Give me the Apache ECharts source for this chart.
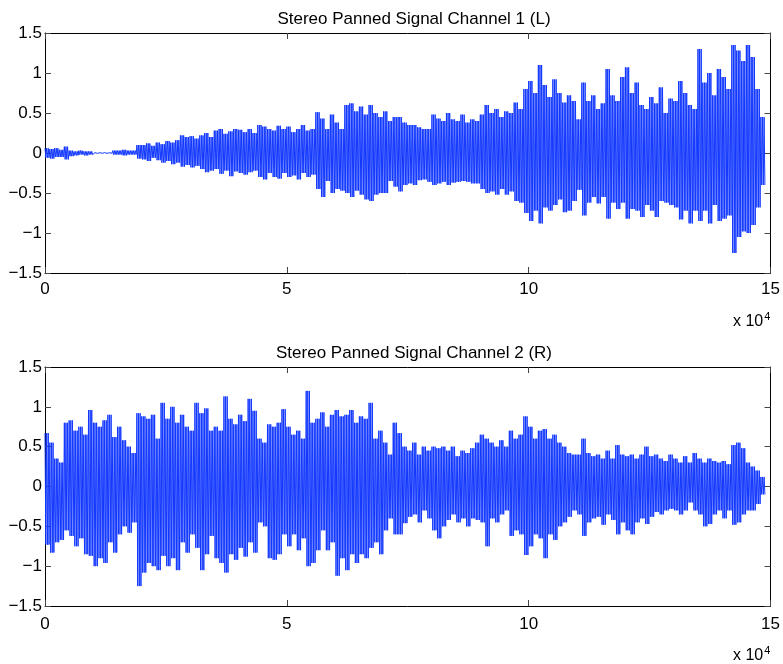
<!DOCTYPE html>
<html>
<head>
<meta charset="utf-8">
<script src="https://cdn.jsdelivr.net/npm/echarts@6/dist/echarts.min.js"></script>
<style>
html,body{margin:0;padding:0;background:#fff;}
#chart{width:783px;height:664px;}
</style>
</head>
<body>
<div id="chart"></div>
<script>
// ---- Data ----
const titles = ['Stereo Panned Signal Channel 1 (L)', 'Stereo Panned Signal Channel 2 (R)'];
const xTicks = [0, 50000, 100000, 150000];
const yTicks = [-1.5, -1, -0.5, 0, 0.5, 1, 1.5];
const binSize = 1000;   // samples per peak bin

// Channel 1 (L): upper and lower peaks per 1000-sample bin
const ch1Hi = [
 0.06,0.05,0.06,0.04,0.08,0.03,0.02,0.03,0.02,0.02,
 0.005,0.004,0.005,0.004,0.03,0.03,0.04,0.03,0.03,0.10,
 0.10,0.12,0.09,0.13,0.11,0.15,0.13,0.16,0.22,0.20,
 0.21,0.18,0.22,0.25,0.20,0.28,0.30,0.24,0.27,0.30,
 0.29,0.26,0.30,0.25,0.35,0.33,0.30,0.28,0.34,0.30,
 0.33,0.26,0.30,0.35,0.28,0.30,0.51,0.43,0.30,0.48,
 0.38,0.30,0.60,0.62,0.52,0.58,0.48,0.60,0.50,0.45,
 0.52,0.40,0.45,0.45,0.38,0.35,0.35,0.32,0.30,0.30,
 0.48,0.43,0.40,0.50,0.42,0.40,0.48,0.38,0.42,0.40,
 0.48,0.60,0.50,0.55,0.45,0.52,0.50,0.63,0.55,0.80,
 0.90,0.75,1.10,0.85,0.70,0.92,0.75,0.63,0.72,0.65,
 0.42,0.88,0.65,0.72,0.55,0.62,1.05,0.72,0.65,0.95,
 1.07,0.75,0.88,0.60,0.55,0.70,0.62,0.82,0.50,0.68,
 0.65,0.90,0.75,0.60,0.55,1.30,0.88,1.00,0.72,1.05,
 0.95,0.80,1.35,1.28,1.15,1.35,1.20,0.80,0.45
];
const ch1Lo = [
 -0.06,-0.07,-0.05,-0.05,-0.08,-0.04,-0.03,-0.02,-0.03,-0.02,
 -0.005,-0.004,-0.005,-0.004,-0.02,-0.02,-0.03,-0.02,-0.02,-0.07,
 -0.08,-0.10,-0.06,-0.09,-0.12,-0.10,-0.14,-0.12,-0.17,-0.15,
 -0.18,-0.16,-0.20,-0.24,-0.22,-0.20,-0.26,-0.22,-0.29,-0.23,
 -0.25,-0.27,-0.24,-0.22,-0.30,-0.33,-0.25,-0.30,-0.32,-0.25,
 -0.30,-0.28,-0.33,-0.25,-0.30,-0.27,-0.45,-0.55,-0.35,-0.50,
 -0.45,-0.47,-0.50,-0.55,-0.47,-0.52,-0.58,-0.60,-0.52,-0.50,
 -0.50,-0.35,-0.42,-0.48,-0.40,-0.38,-0.40,-0.34,-0.33,-0.36,
 -0.40,-0.38,-0.36,-0.40,-0.37,-0.36,-0.35,-0.36,-0.38,-0.38,
 -0.45,-0.50,-0.48,-0.52,-0.45,-0.52,-0.48,-0.60,-0.62,-0.75,
 -0.85,-0.72,-0.88,-0.68,-0.72,-0.65,-0.58,-0.74,-0.72,-0.60,
 -0.46,-0.78,-0.62,-0.55,-0.63,-0.55,-0.82,-0.62,-0.70,-0.62,
 -0.82,-0.70,-0.72,-0.80,-0.65,-0.72,-0.80,-0.60,-0.62,-0.65,
 -0.68,-0.83,-0.72,-0.88,-0.72,-0.85,-0.72,-0.88,-0.65,-0.85,
 -0.82,-0.78,-1.25,-1.05,-0.98,-1.00,-0.90,-0.68,-0.40
];

// Channel 2 (R): upper and lower peaks per 1000-sample bin
const ch2Hi = [
 0.67,0.55,0.35,0.30,0.80,0.83,0.70,0.75,0.65,0.96,
 0.80,0.75,0.83,0.90,0.62,0.75,0.58,0.50,0.42,0.92,
 0.88,0.85,0.90,0.60,1.05,0.85,1.00,0.80,0.90,0.75,
 0.70,1.05,0.92,0.98,0.70,0.75,0.70,1.13,0.85,0.78,
 0.90,0.82,1.10,0.95,0.60,0.55,0.78,0.75,0.80,0.97,
 0.75,0.65,0.70,0.60,1.20,0.80,0.85,0.93,0.75,0.90,
 0.96,0.88,0.90,0.96,0.80,0.88,0.85,1.05,0.60,0.70,
 0.55,0.40,0.80,0.67,0.50,0.45,0.55,0.40,0.50,0.45,
 0.50,0.48,0.50,0.45,0.50,0.38,0.45,0.42,0.48,0.55,
 0.65,0.60,0.55,0.50,0.58,0.50,0.70,0.60,0.65,0.88,
 0.75,0.60,0.70,0.72,0.60,0.65,0.55,0.50,0.42,0.40,
 0.40,0.60,0.42,0.38,0.40,0.35,0.45,0.35,0.52,0.40,
 0.38,0.40,0.35,0.40,0.50,0.38,0.40,0.35,0.32,0.40,
 0.35,0.30,0.38,0.30,0.42,0.35,0.30,0.35,0.32,0.30,
 0.32,0.28,0.52,0.55,0.48,0.30,0.25,0.20,0.12
];
const ch2Lo = [
 -0.73,-0.83,-0.70,-0.67,-0.55,-0.62,-0.75,-0.65,-0.85,-0.87,
 -1.00,-0.90,-0.96,-0.70,-0.83,-0.60,-0.50,-0.58,-0.45,-1.25,
 -1.08,-0.96,-1.00,-1.05,-0.87,-1.00,-0.90,-1.05,-0.70,-0.83,
 -0.60,-0.77,-1.05,-0.85,-0.62,-0.90,-0.96,-1.08,-0.85,-0.92,
 -0.77,-0.88,-0.70,-0.83,-0.45,-0.50,-0.90,-0.92,-0.85,-0.60,
 -0.75,-0.60,-0.80,-0.65,-1.00,-0.96,-0.80,-0.55,-0.80,-0.70,
 -1.12,-0.90,-1.05,-0.85,-0.96,-0.85,-0.90,-0.77,-0.70,-0.85,
 -0.55,-0.40,-0.60,-0.60,-0.46,-0.38,-0.35,-0.45,-0.30,-0.40,
 -0.55,-0.65,-0.50,-0.42,-0.35,-0.45,-0.40,-0.50,-0.40,-0.42,
 -0.45,-0.75,-0.40,-0.45,-0.35,-0.30,-0.62,-0.55,-0.60,-0.86,
 -0.75,-0.60,-0.65,-0.90,-0.60,-0.67,-0.50,-0.45,-0.38,-0.30,
 -0.35,-0.62,-0.45,-0.40,-0.38,-0.48,-0.35,-0.42,-0.60,-0.45,
 -0.55,-0.60,-0.45,-0.40,-0.47,-0.38,-0.32,-0.35,-0.30,-0.28,
 -0.30,-0.35,-0.30,-0.20,-0.30,-0.35,-0.50,-0.47,-0.35,-0.30,
 -0.40,-0.30,-0.48,-0.45,-0.35,-0.30,-0.30,-0.22,-0.10
];

// ---- Build line data: each bin's peak pair is drawn as a dense up/down swing ----
const swingsPerBin = 3;
function wave(hi, lo) {
  const d = [];
  const s = binSize / (2 * swingsPerBin);
  for (let i = 0; i < hi.length; i++) {
    const x0 = i * binSize;
    for (let k = 0; k < swingsPerBin; k++) {
      d.push([x0 + 2 * k * s, hi[i]]);
      d.push([x0 + (2 * k + 1) * s, lo[i]]);
    }
  }
  return d;
}

const FONT = "'Liberation Sans', Arial, Helvetica, sans-serif";
const grids = [
  {left: 45, right: 11, top: 33, height: 240},
  {left: 45, right: 11, top: 367, height: 239}
];
function yFmt(v){ if (v === 0) return '0'; return (v < 0 ? '\u2212' : '') + Math.abs(v); }

const xAxis = [], yAxis = [];
for (let g = 0; g < 2; g++) {
  const common = {gridIndex: g, type: 'value', min: xTicks[0], max: xTicks[xTicks.length - 1],
    interval: xTicks[1] - xTicks[0],
    splitLine: {show: false},
    axisLine: {show: true, onZero: false, lineStyle: {color: '#000', width: 1}},
    axisTick: {show: true, inside: true, length: 6, lineStyle: {color: '#444'}}};
  xAxis.push(Object.assign({}, common, {position: 'bottom',
    axisLabel: {show: true, margin: g === 0 ? 8 : 10, color: '#000', fontSize: 17, fontFamily: FONT,
      formatter: v => String(v / 10000)}}));
  xAxis.push(Object.assign({}, common, {position: 'top', axisLabel: {show: false}}));
  const ycommon = {gridIndex: g, type: 'value', min: yTicks[0], max: yTicks[yTicks.length - 1],
    interval: yTicks[1] - yTicks[0],
    splitLine: {show: false},
    axisLine: {show: true, onZero: false, lineStyle: {color: '#000', width: 1}},
    axisTick: {show: true, inside: true, length: 6, lineStyle: {color: '#444'}}};
  yAxis.push(Object.assign({}, ycommon, {position: 'left',
    axisLabel: {show: true, margin: 3, color: '#000', fontSize: 17, fontFamily: FONT, formatter: yFmt}}));
  yAxis.push(Object.assign({}, ycommon, {position: 'right', axisLabel: {show: false}}));
}

const chart = echarts.init(document.getElementById('chart'), null, {renderer: 'canvas'});
chart.setOption({
  animation: false,
  backgroundColor: '#fff',
  title: [
    {text: titles[0], left: 409, top: 6, textAlign: 'center',
     textStyle: {fontSize: 17, fontWeight: 'normal', color: '#000', fontFamily: FONT}},
    {text: titles[1], left: 409, top: 340, textAlign: 'center',
     textStyle: {fontSize: 17, fontWeight: 'normal', color: '#000', fontFamily: FONT}}
  ],
  grid: grids,
  xAxis: xAxis,
  yAxis: yAxis,
  series: [
    {type: 'line', xAxisIndex: 0, yAxisIndex: 0, data: wave(ch1Hi, ch1Lo), showSymbol: false,
     sampling: null, lineStyle: {color: '#1238ff', width: 1}, silent: true},
    {type: 'line', xAxisIndex: 2, yAxisIndex: 2, data: wave(ch2Hi, ch2Lo), showSymbol: false,
     sampling: null, lineStyle: {color: '#1238ff', width: 1}, silent: true}
  ],
  graphic: [
    {type: 'text', left: 733, top: 311, style: {text: 'x 10{s|4}', fill: '#000', fontSize: 16, fontFamily: FONT,
      rich: {s: {fontSize: 11, verticalAlign: 'top', padding: [0,0,10,1], fontFamily: FONT}}}},
    {type: 'text', left: 733, top: 645, style: {text: 'x 10{s|4}', fill: '#000', fontSize: 16, fontFamily: FONT,
      rich: {s: {fontSize: 11, verticalAlign: 'top', padding: [0,0,10,1], fontFamily: FONT}}}}
  ]
});
</script>
</body>
</html>
